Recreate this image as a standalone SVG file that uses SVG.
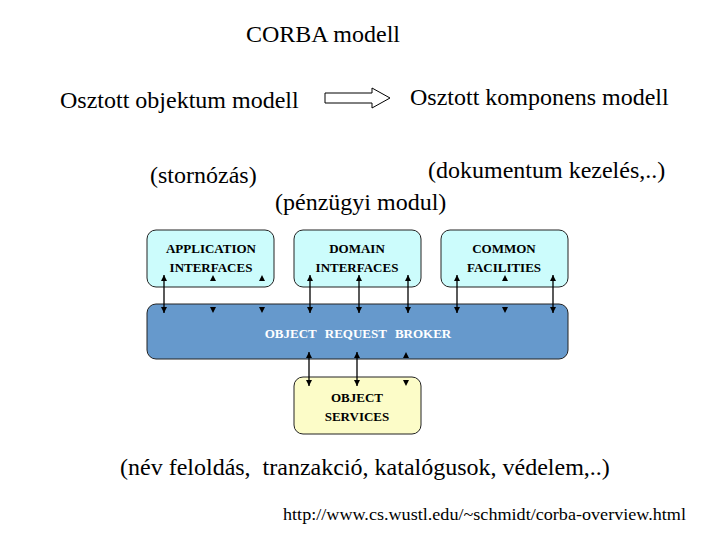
<svg xmlns="http://www.w3.org/2000/svg" width="720" height="540" viewBox="0 0 720 540">
<defs>
<style>
.t{font-family:"Liberation Serif","Times New Roman",serif;fill:#000}
.big{font-size:24px}
.lab{font-family:"Liberation Serif","Times New Roman",serif;font-weight:bold;font-size:13px;text-anchor:middle}
.box{stroke:#222;stroke-width:1}
.ln{stroke:#000;stroke-width:1.3;fill:none}
</style>
<marker id="ah" viewBox="0 0 10 10" refX="10" refY="5" markerWidth="6" markerHeight="6" orient="auto-start-reverse" markerUnits="userSpaceOnUse"><path d="M0,0 L10,5 L0,10 z" fill="#000"/></marker>
</defs>
<rect width="720" height="540" fill="#fff"/>
<text class="t big" x="246" y="42">CORBA modell</text>
<text class="t big" x="60" y="108">Osztott objektum modell</text>
<text class="t big" x="410" y="105">Osztott komponens modell</text>
<path d="M325,93 H372 V88 L390,98 L372,108 V103 H325 Z" fill="#fff" stroke="#000" stroke-width="1"/>
<text class="t big" x="150" y="183">(stornózás)</text>
<text class="t big" x="428" y="178">(dokumentum kezelés,..)</text>
<text class="t big" x="275" y="210">(pénzügyi modul)</text>
<g id="app"><rect class="box" x="147" y="230" width="127" height="57" rx="9" fill="#ccfcfc"/>
<text class="lab" x="211" y="253">APPLICATION</text><text class="lab" x="211" y="272">INTERFACES</text></g>
<g id="domain"><rect class="box" x="294" y="230" width="127" height="57" rx="9" fill="#ccfcfc"/>
<text class="lab" x="357" y="253">DOMAIN</text><text class="lab" x="357" y="272">INTERFACES</text></g>
<g id="common"><rect class="box" x="441" y="230" width="127" height="57" rx="9" fill="#ccfcfc"/>
<text class="lab" x="504" y="253">COMMON</text><text class="lab" x="504" y="272">FACILITIES</text></g>
<g id="orb"><rect class="box" x="147" y="304" width="421" height="55" rx="9" fill="#6699cc"/>
<text class="lab" x="358" y="338" fill="#fff" style="word-spacing:5px">OBJECT REQUEST BROKER</text></g>
<g id="services"><rect class="box" x="294" y="377" width="127" height="57" rx="9" fill="#fcfcc8"/>
<text class="lab" x="357" y="402">OBJECT</text><text class="lab" x="357" y="421">SERVICES</text></g>
<g id="connectors">
<line class="ln" x1="164" y1="275" x2="164" y2="313" marker-start="url(#ah)" marker-end="url(#ah)"/>
<line class="ln" x1="310" y1="275" x2="310" y2="313" marker-start="url(#ah)" marker-end="url(#ah)"/>
<line class="ln" x1="359" y1="275" x2="359" y2="313" marker-start="url(#ah)" marker-end="url(#ah)"/>
<line class="ln" x1="408" y1="275" x2="408" y2="313" marker-start="url(#ah)" marker-end="url(#ah)"/>
<line class="ln" x1="457" y1="275" x2="457" y2="313" marker-start="url(#ah)" marker-end="url(#ah)"/>
<line class="ln" x1="553" y1="275" x2="553" y2="313" marker-start="url(#ah)" marker-end="url(#ah)"/>
<g fill="#000">
<path d="M213,275 l-3,6 h6 z M262,275 l-3,6 h6 z M505,275 l-3,6 h6 z"/>
<path d="M213,313 l-3,-6 h6 z M262,313 l-3,-6 h6 z M505,313 l-3,-6 h6 z"/>
<path d="M406,352 l-3,6 h6 z M406,386 l-3,-6 h6 z"/>
</g>
<line class="ln" x1="309" y1="352" x2="309" y2="386" marker-start="url(#ah)" marker-end="url(#ah)"/>
<line class="ln" x1="357" y1="352" x2="357" y2="386" marker-start="url(#ah)" marker-end="url(#ah)"/>
</g>
<text class="t big" x="120" y="475" xml:space="preserve">(név feloldás,  tranzakció, katalógusok, védelem,..)</text>
<text class="t" x="283" y="520" font-size="17" textLength="403" lengthAdjust="spacingAndGlyphs">http://www.cs.wustl.edu/~schmidt/corba-overview.html</text>
</svg>
